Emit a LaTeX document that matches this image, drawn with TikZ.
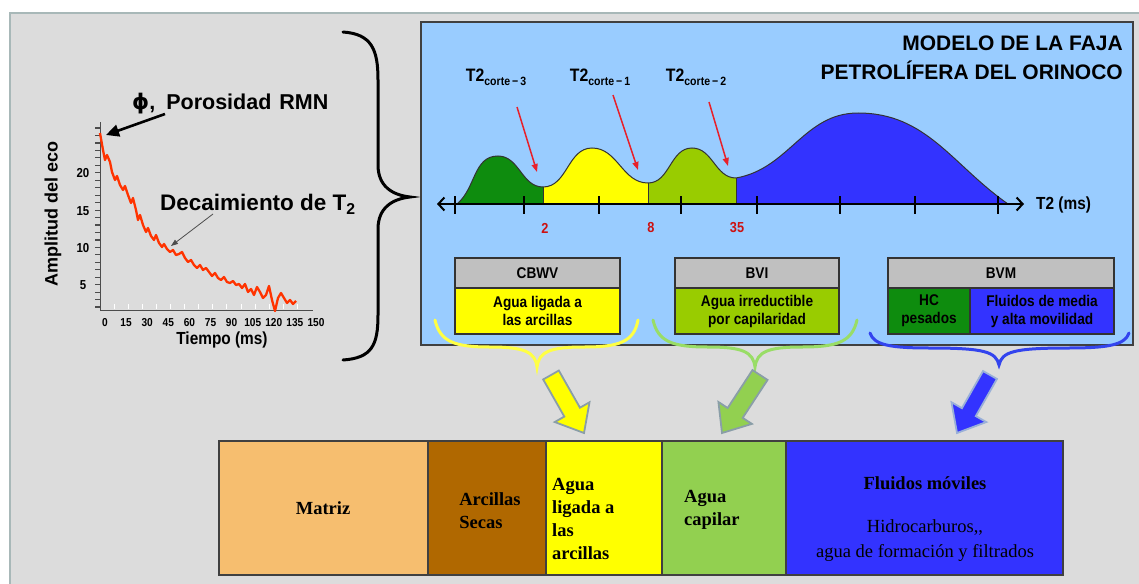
\documentclass[tikz,border=0pt]{standalone}
\usepackage{fontspec}
\setmainfont{Liberation Sans}
\newfontfamily\arialn[FakeStretch=0.88]{Liberation Sans}
\newfontfamily\timesf{Liberation Serif}
\newfontfamily\dejavu{DejaVu Sans}
\usetikzlibrary{arrows.meta,calc}

\definecolor{panelbg}{HTML}{DCDCDC}
\definecolor{panelbd}{HTML}{A8B8B8}
\definecolor{skyb}{HTML}{99CCFF}
\definecolor{dkgreen}{HTML}{0E8C0E}
\definecolor{ylw}{HTML}{FFFF00}
\definecolor{lgreen}{HTML}{99CC00}
\definecolor{vblue}{HTML}{3333FF}
\definecolor{hdrgrey}{HTML}{C0C0C0}
\definecolor{matrizc}{HTML}{F6BE6F}
\definecolor{brownc}{HTML}{B06800}
\definecolor{capg}{HTML}{92D050}
\definecolor{redc}{HTML}{E8202A}
\definecolor{numred}{HTML}{CC1111}
\definecolor{curvered}{HTML}{FF3300}
\definecolor{ybrace}{HTML}{FFFF44}
\definecolor{gbrace}{HTML}{99DD66}
\definecolor{bbrace}{HTML}{3344EE}
\definecolor{arrbd}{HTML}{8A9EA8}
\definecolor{arrbdb}{HTML}{9AB0D8}

\newcommand\fatarr[5]{%
  \path ($(#2)!24pt!(#1)$) coordinate (#2h);
  \filldraw[fill=#3, draw=#4, line width=1.8pt, line join=miter]
    ($(#1)!#5!90:(#2h)$) -- ($(#2h)!#5!-90:(#1)$) -- ($(#2h)!20pt!-90:(#1)$) -- (#2)
    -- ($(#2h)!20pt!90:(#1)$) -- ($(#2h)!#5!90:(#1)$) -- ($(#1)!#5!-90:(#2h)$) -- cycle;}

\tikzset{
  boxline/.style={draw=black!80, line width=1.2pt, inner sep=0pt, outer sep=0pt, anchor=north west},
  hdr/.style={boxline, fill=hdrgrey, minimum height=30pt, font=\arialn\bfseries\fontsize{15.5}{15.5}\selectfont},
  bodyb/.style={boxline, minimum height=46pt, align=center, font=\arialn\bfseries\fontsize{15.5}{18}\selectfont},
  cell/.style={draw=black!75, line width=1.2pt, inner sep=0pt, outer sep=0pt, anchor=north west, minimum height=134pt},
  celltxt/.style={font=\timesf\bfseries\fontsize{18.5}{23}\selectfont, inner sep=0pt},
  t2lbl/.style={font=\arialn\bfseries\fontsize{18}{18}\selectfont, inner sep=0pt},
  numlbl/.style={font=\arialn\bfseries\fontsize{14.5}{14.5}\selectfont, text=numred, inner sep=0pt},
  redarr/.style={draw=redc, line width=1.5pt, -{Triangle[length=8pt,width=6pt]}},
  curveline/.style={draw=black!80, line width=1pt},
  ticklbl/.style={font=\arialn\bfseries\fontsize{11.5}{11.5}\selectfont, inner sep=0pt},
  bracel/.style={line width=3pt, line cap=round},
}

\begin{document}
\begin{tikzpicture}[x=1pt,y=-1pt]
\useasboundingbox (0,0) rectangle (1139,583);
\fill[white] (0,0) rectangle (1139,583);
\draw[panelbd, fill=panelbg, line width=2pt] (10,13) rectangle (1170,610);

% ===== left chart =====
\draw[black!70, line width=1pt] (100,122) -- (100,310) -- (313,310);
\foreach \k in {2,...,26} \draw[black!70, line width=1.2pt] (95,{322-7.46*\k}) -- (100,{322-7.46*\k});
\foreach \i in {1,...,14} \draw[white, line width=1pt] ({100+14.1*\i},304) -- ({100+14.1*\i},309);
\foreach \v [count=\i from 0] in {0,15,...,150} \node[ticklbl] (xl\i) at ({105+21.1*\i},323) {\v};
\foreach \v/\yy in {20/173,15/211,10/248,5/285} \node[ticklbl, font=\arialn\bfseries\fontsize{13}{13}\selectfont] (yl\v) at (83,\yy) {\v};
\node[font=\bfseries\fontsize{18}{18}\selectfont, rotate=90] (ylab) at (53,214) {Amplitud del eco};
\node[font=\arialn\bfseries\fontsize{17.5}{17.5}\selectfont] (xlab) at (222,340) {Tiempo (ms)};

\draw[curvered, line width=2.3pt, line join=round] plot coordinates {
(100,133) (103,150) (105,160) (107,155) (110,162) (112,172) (115,180) (117,176) (120,185) (123,190) (125,186) (128,195) (131,203) (133,198) (136,210) (138,220) (140,215) (143,225) (146,232) (148,228) (151,236) (154,240) (156,235) (159,243) (162,247) (164,244) (167,249) (170,252) (173,250) (176,255) (179,254) (182,252) (185,258) (188,262) (191,260) (194,265) (197,268) (200,265) (203,270) (206,268) (209,272) (212,276) (215,273) (218,278) (221,280) (224,277) (227,282) (230,283) (233,281) (236,285) (239,284) (242,288) (245,284) (248,292) (251,289) (254,295) (257,287) (260,292) (263,298) (266,295) (269,286) (272,300) (275,311) (278,298) (281,293) (284,298) (287,303) (290,300) (293,304) (296,301)};

\node[font=\bfseries\fontsize{21.5}{21.5}\selectfont, anchor=west, inner sep=0pt] (phi) at (132,104) {{\dejavu ϕ},\hspace{11pt}Porosidad\hspace{8pt}RMN};
\coordinate (phiS) at (165,114);
\coordinate (phiT) at (106,135);
\draw[black, line width=2.6pt, -{Triangle[length=13pt,width=12pt]}] (phiS) -- (phiT);
\node[font=\bfseries\fontsize{22.5}{22.5}\selectfont, anchor=west, inner sep=0pt] (decay) at (160,204) {Decaimiento de T\textsubscript{2}};
\coordinate (decS) at (213,214);
\coordinate (decT) at (171,246);
\draw[black!70, line width=0.8pt, -{Triangle[length=7pt,width=5pt]}] (decS) -- (decT);

% big brace
\draw[black, line width=3pt, line cap=round] (343,32) .. controls (372,34) and (378,50) .. (378,80) -- (378,165) .. controls (378,186) and (392,195) .. (410,197) .. controls (392,199) and (378,208) .. (378,229) -- (378,315) .. controls (378,345) and (372,358) .. (343,360);

% ===== model box =====
\node[draw=black!75, line width=1.5pt, fill=skyb, minimum width=712pt, minimum height=323pt, anchor=north west, inner sep=0pt, outer sep=0pt] (model) at (421,22) {};
\node[font=\bfseries\fontsize{21}{29}\selectfont, align=right, anchor=north east, inner sep=0pt] (title) at (1123,36) {MODELO DE LA FAJA\\PETROLÍFERA DEL ORINOCO};

% T2 spectrum
\fill[dkgreen] (457,204) to[out=40,in=180] (498,156) to[out=0,in=180] (543,187) -- (543,204) -- cycle;
\fill[ylw] (543,187) to[out=0,in=180] (592,148) to[out=0,in=180] (648,183) -- (648,204) -- (543,204) -- cycle;
\fill[lgreen] (648,183) to[out=0,in=180] (692,148) to[out=0,in=180] (736,178) -- (736,204) -- (648,204) -- cycle;
\fill[vblue] (736,178) to[out=10,in=180] (858,113) to[out=0,in=145] (1008,204) -- (736,204) -- cycle;
\draw[curveline] (457,204) to[out=40,in=180] (498,156) to[out=0,in=180] (543,187) to[out=0,in=180] (592,148) to[out=0,in=180] (648,183) to[out=0,in=180] (692,148) to[out=0,in=180] (736,178) to[out=10,in=180] (858,113) to[out=0,in=145] (1008,204);
\foreach \x/\yy in {543/187,648/183,736/178} \draw[black!80, line width=0.9pt] (\x,\yy) -- (\x,204);

\coordinate (axl) at (437,204);
\coordinate (axr) at (1024,204);
\draw[black, line width=2pt, {Straight Barb[length=6pt,width=13pt]}-{Straight Barb[length=6pt,width=13pt]}] (axl) -- (axr);
\foreach \x in {455,524,599,681,757,840,915,998} \draw[black, line width=1.3pt] (\x,196) -- (\x,214);
\node[font=\arialn\bfseries\fontsize{17.5}{17.5}\selectfont, anchor=west, inner sep=0pt] (t2ms) at (1036,205) {T2 (ms)};
\node[numlbl] (n2) at (545,228) {2};
\node[numlbl] (n8) at (651,228) {8};
\node[numlbl] (n35) at (737,228) {35};

\node[t2lbl] (t2c3) at (496,77) {T2\raisebox{-4pt}{\fontsize{12}{12}\selectfont corte\,−\,3}};
\node[t2lbl] (t2c1) at (600,77) {T2\raisebox{-4pt}{\fontsize{12}{12}\selectfont corte\,−\,1}};
\node[t2lbl] (t2c2) at (696,77) {T2\raisebox{-4pt}{\fontsize{12}{12}\selectfont corte\,−\,2}};
\coordinate (r3s) at (517,107); \coordinate (r3t) at (537,172);
\coordinate (r1s) at (613,95);  \coordinate (r1t) at (638,170);
\coordinate (r2s) at (709,102); \coordinate (r2t) at (728,166);
\draw[redarr] (r3s) -- (r3t);
\draw[redarr] (r1s) -- (r1t);
\draw[redarr] (r2s) -- (r2t);

% classification boxes
\node[hdr, minimum width=165pt] (cbwvh) at (455,258) {CBWV};
\node[bodyb, fill=ylw, minimum width=165pt] (cbwvb) at (cbwvh.south west) {Agua ligada a\\las arcillas};
\node[hdr, minimum width=164pt] (bvih) at (675,258) {BVI};
\node[bodyb, fill=lgreen, minimum width=164pt] (bvib) at (bvih.south west) {Agua irreductible\\por capilaridad};
\node[hdr, minimum width=226pt] (bvmh) at (888,258) {BVM};
\node[bodyb, fill=dkgreen, minimum width=82pt] (hcb) at (bvmh.south west) {HC\\pesados};
\node[bodyb, fill=vblue, minimum width=144pt] (flb) at (hcb.north east) {Fluidos de media\\y alta movilidad};

% coloured braces
\draw[bracel, ybrace] (435,320) .. controls (440,342) and (455,347) .. (490,347) .. controls (525,347) and (535,352) .. (537,367) .. controls (539,352) and (549,347) .. (584,347) .. controls (619,347) and (634,342) .. (638,320);
\draw[bracel, gbrace] (653,320) .. controls (658,342) and (673,347) .. (708,347) .. controls (743,347) and (753,352) .. (755,367) .. controls (757,352) and (767,347) .. (802,347) .. controls (837,347) and (852,342) .. (857,320);
\draw[bracel, bbrace] (870,333) .. controls (874,345) and (890,348) .. (930,348) .. controls (985,348) and (996,352) .. (999,365) .. controls (1002,352) and (1013,348) .. (1068,348) .. controls (1108,348) and (1125,345) .. (1129,333);

% fat arrows
\coordinate (yaS) at (551,375); \coordinate (yaT) at (584,433);
\coordinate (gaS) at (760,375); \coordinate (gaT) at (722,433);
\coordinate (baS) at (990,375); \coordinate (baT) at (957,433);
\fatarr{yaS}{yaT}{ylw}{arrbd}{9pt}
\fatarr{gaS}{gaT}{capg}{arrbd}{9pt}
\fatarr{baS}{baT}{vblue}{arrbdb}{8pt}

% bottom bar
\node[cell, fill=matrizc, minimum width=209pt] (matriz) at (219,441) {};
\node[cell, fill=brownc, minimum width=118pt] (arcs) at (matriz.north east) {};
\node[cell, fill=ylw, minimum width=116pt] (alig) at (arcs.north east) {};
\node[cell, fill=capg, minimum width=124pt] (acap) at (alig.north east) {};
\node[cell, fill=vblue, minimum width=277pt] (fmov) at (acap.north east) {};
\node[celltxt] (tmat) at (323,508) {Matriz};
\node[celltxt, align=left] (tarc) at (490,511) {Arcillas\\Secas};
\node[celltxt, align=left, anchor=west] (talig) at (552,519) {Agua\\ligada a\\las\\arcillas};
\node[celltxt, align=left, anchor=west] (tcap) at (684,510) {Agua\\capilar};
\node[celltxt] (tflu) at (925,483) {Fluidos móviles};
\node[celltxt, font=\timesf\fontsize{18.5}{25}\selectfont, align=center] (thid) at (925,541) {Hidrocarburos,,\\agua de formación y filtrados};
\end{tikzpicture}
\end{document}
